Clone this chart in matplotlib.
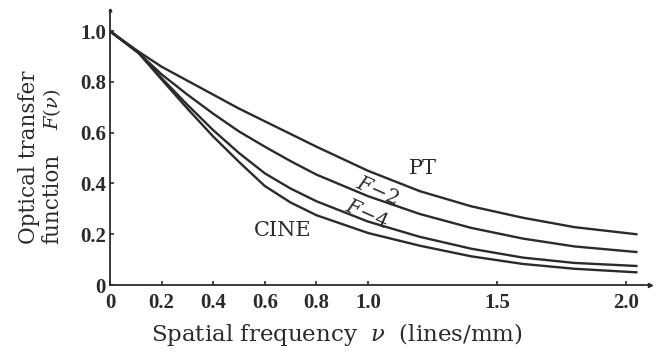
import matplotlib
matplotlib.use('Agg')
from matplotlib import pyplot as plt

plt.rcParams['mathtext.fontset'] = 'dejavuserif'

# spatial frequency (lines/mm) and OTF values
nu = [0, 0.11, 0.2, 0.3, 0.4, 0.5, 0.6, 0.7, 0.8, 1.0, 1.2, 1.4, 1.6, 1.8, 2.04]
pt = [1.0, 0.92, 0.86, 0.805, 0.75, 0.695, 0.645, 0.595, 0.545, 0.45, 0.37,
      0.31, 0.265, 0.228, 0.20]
f2 = [1.0, 0.915, 0.83, 0.75, 0.675, 0.605, 0.545, 0.488, 0.435, 0.35, 0.28,
      0.225, 0.183, 0.152, 0.13]
f4 = [1.0, 0.915, 0.815, 0.71, 0.61, 0.52, 0.44, 0.38, 0.33, 0.25, 0.19,
      0.143, 0.108, 0.087, 0.075]
cine = [1.0, 0.915, 0.81, 0.695, 0.585, 0.485, 0.39, 0.325, 0.275, 0.205, 0.155,
        0.113, 0.083, 0.064, 0.05]

xticks = [0, 0.2, 0.4, 0.6, 0.8, 1.0, 1.5, 2.0]
xtick_labels = ['0', '0.2', '0.4', '0.6', '0.8', '1.0', '1.5', '2.0']
yticks = [0, 0.2, 0.4, 0.6, 0.8, 1.0]
ytick_labels = ['0', '0.2', '0.4', '0.6', '0.8', '1.0']

ink = '#2b2b2b'
tick_font = {'family': 'Liberation Serif', 'weight': 'bold', 'size': 15}

fig = plt.figure(figsize=(6.57, 3.52), dpi=100)
ax = fig.add_axes([0.1674, 0.1903, 0.822, 0.781])

for ys in [pt, f2, f4, cine]:
    ax.plot(nu, ys, color=ink, lw=1.7, solid_joinstyle='round')

ax.set_xlim(0, 2.093)
ax.set_ylim(0, 1.083)
ax.spines['top'].set_visible(False)
ax.spines['right'].set_visible(False)
for s in ['left', 'bottom']:
    ax.spines[s].set_color(ink)
    ax.spines[s].set_linewidth(1.3)

ax.set_xticks(xticks)
ax.set_xticklabels(xtick_labels, fontdict=tick_font, color=ink)
ax.set_yticks(yticks)
ax.set_yticklabels(ytick_labels, fontdict=tick_font, color=ink)
ax.tick_params(axis='both', direction='in', length=3, width=1.2, color=ink)
ax.tick_params(axis='x', pad=6)
ax.tick_params(axis='y', pad=3)

# small arrow heads at the axis ends
ax.plot(1, 0, '>', color=ink, ms=3, transform=ax.transAxes, clip_on=False)
ax.plot(0, 1, '^', color=ink, ms=2, transform=ax.transAxes, clip_on=False)

# curve labels
ax.text(1.213, 0.46, 'PT', fontsize=15, family='DejaVu Serif', color=ink,
        ha='center', va='center')
ax.text(1.035, 0.37, '$F$\u22122', fontsize=14.5, family='DejaVu Serif', color=ink,
        ha='center', va='center', rotation=-24)
ax.text(0.996, 0.278, '$F$\u22124', fontsize=14.5, family='DejaVu Serif', color=ink,
        ha='center', va='center', rotation=-24)
ax.text(0.67, 0.215, 'CINE', fontsize=15, family='DejaVu Serif', color=ink,
        ha='center', va='center')

# axis titles
fig.text(337 / 657, 1 - 335 / 352, r'Spatial frequency  $\nu$  (lines/mm)',
         fontsize=16.5, family='DejaVu Serif', color=ink, ha='center', va='center')
fig.text(29 / 657, 1 - 244 / 352, 'Optical transfer', fontsize=15.5,
         family='DejaVu Serif', color=ink, rotation=90, rotation_mode='anchor',
         ha='left', va='center')
fig.text(52 / 657, 1 - 244 / 352, 'function', fontsize=15.5,
         family='DejaVu Serif', color=ink, rotation=90, rotation_mode='anchor',
         ha='left', va='center')
fig.text(52 / 657, 1 - 130 / 352, r'$F(\nu)$', fontsize=14,
         family='DejaVu Serif', color=ink, rotation=90, rotation_mode='anchor',
         ha='left', va='center')

fig.savefig('out.png', dpi=100)
